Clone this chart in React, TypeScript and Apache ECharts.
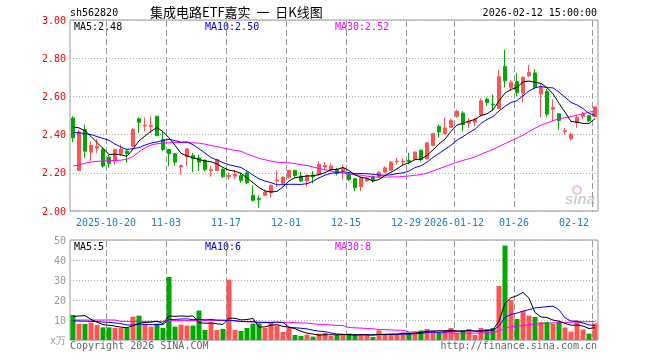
import React, { useEffect, useRef } from 'react';
import * as echarts from 'echarts';

const dates = [
  '2025-10-10', '2025-10-13', '2025-10-14', '2025-10-15', '2025-10-16', '2025-10-17',
  '2025-10-20', '2025-10-21', '2025-10-22', '2025-10-23', '2025-10-24',
  '2025-10-27', '2025-10-28', '2025-10-29', '2025-10-30', '2025-10-31',
  '2025-11-03', '2025-11-04', '2025-11-05', '2025-11-06', '2025-11-07',
  '2025-11-10', '2025-11-11', '2025-11-12', '2025-11-13', '2025-11-14',
  '2025-11-17', '2025-11-18', '2025-11-19', '2025-11-20', '2025-11-21',
  '2025-11-24', '2025-11-25', '2025-11-26', '2025-11-27', '2025-11-28',
  '2025-12-01', '2025-12-02', '2025-12-03', '2025-12-04', '2025-12-05',
  '2025-12-08', '2025-12-09', '2025-12-10', '2025-12-11', '2025-12-12',
  '2025-12-15', '2025-12-16', '2025-12-17', '2025-12-18', '2025-12-19',
  '2025-12-22', '2025-12-23', '2025-12-24', '2025-12-25', '2025-12-26',
  '2025-12-29', '2025-12-30', '2025-12-31',
  '2026-01-05', '2026-01-06', '2026-01-07', '2026-01-08', '2026-01-09',
  '2026-01-12', '2026-01-13', '2026-01-14', '2026-01-15', '2026-01-16',
  '2026-01-19', '2026-01-20', '2026-01-21', '2026-01-22', '2026-01-23',
  '2026-01-26', '2026-01-27', '2026-01-28', '2026-01-29', '2026-01-30',
  '2026-02-02', '2026-02-03', '2026-02-04', '2026-02-05', '2026-02-06',
  '2026-02-09', '2026-02-10', '2026-02-11', '2026-02-12',
];

const opens = [
  2.487, 2.212, 2.426, 2.308, 2.33, 2.322, 2.282, 2.261, 2.299, 2.313,
  2.339, 2.483, 2.445, 2.443, 2.496, 2.374, 2.322, 2.30, 2.23, 2.283,
  2.29, 2.278, 2.266, 2.212, 2.212, 2.217, 2.179, 2.183, 2.186, 2.2,
  2.082, 2.066, 2.082, 2.096, 2.157, 2.144, 2.177, 2.212, 2.183, 2.157,
  2.188, 2.191, 2.23, 2.217, 2.217, 2.209, 2.191, 2.169, 2.127, 2.157,
  2.179, 2.179, 2.203, 2.214, 2.258, 2.256, 2.264, 2.27, 2.318, 2.273,
  2.343, 2.443, 2.405, 2.438, 2.496, 2.513, 2.46, 2.465, 2.504, 2.586,
  2.56, 2.537, 2.756, 2.647, 2.677, 2.617, 2.709, 2.723, 2.612, 2.625,
  2.533, 2.509, 2.415, 2.379, 2.462, 2.495, 2.499, 2.495,
];
const closes = [
  2.383, 2.414, 2.313, 2.343, 2.339, 2.235, 2.249, 2.322, 2.325, 2.30,
  2.426, 2.464, 2.449, 2.449, 2.395, 2.322, 2.30, 2.256, 2.238, 2.325,
  2.273, 2.256, 2.217, 2.217, 2.27, 2.179, 2.186, 2.191, 2.16, 2.148,
  2.056, 2.061, 2.099, 2.134, 2.162, 2.177, 2.212, 2.186, 2.157, 2.186,
  2.179, 2.243, 2.238, 2.235, 2.196, 2.226, 2.165, 2.122, 2.174, 2.169,
  2.157, 2.203, 2.226, 2.257, 2.261, 2.261, 2.259, 2.308, 2.27, 2.357,
  2.405, 2.414, 2.435, 2.475, 2.522, 2.452, 2.468, 2.48, 2.577, 2.568,
  2.555, 2.703, 2.682, 2.674, 2.62, 2.70, 2.726, 2.647, 2.647, 2.507,
  2.542, 2.474, 2.42, 2.40, 2.49, 2.508, 2.474, 2.545,
];
const lows = [
  2.36, 2.209, 2.278, 2.261, 2.304, 2.226, 2.226, 2.243, 2.287, 2.252,
  2.336, 2.409, 2.417, 2.409, 2.391, 2.313, 2.235, 2.235, 2.191, 2.235,
  2.203, 2.209, 2.209, 2.18, 2.209, 2.174, 2.165, 2.165, 2.148, 2.139,
  2.049, 2.017, 2.078, 2.07, 2.127, 2.139, 2.169, 2.174, 2.151, 2.127,
  2.144, 2.186, 2.217, 2.21, 2.186, 2.165, 2.157, 2.104, 2.104, 2.151,
  2.148, 2.174, 2.2, 2.209, 2.243, 2.235, 2.243, 2.266, 2.261, 2.27,
  2.339, 2.383, 2.4, 2.435, 2.487, 2.417, 2.435, 2.443, 2.496, 2.55,
  2.525, 2.533, 2.647, 2.63, 2.6, 2.568, 2.70, 2.637, 2.49, 2.49,
  2.47, 2.426, 2.40, 2.37, 2.435, 2.48, 2.465, 2.49,
];
const highs = [
  2.496, 2.426, 2.452, 2.365, 2.377, 2.33, 2.296, 2.325, 2.348, 2.325,
  2.435, 2.49, 2.49, 2.496, 2.496, 2.417, 2.322, 2.304, 2.243, 2.33,
  2.304, 2.296, 2.27, 2.235, 2.273, 2.226, 2.2, 2.217, 2.2, 2.209,
  2.134, 2.082, 2.113, 2.139, 2.212, 2.183, 2.217, 2.217, 2.205, 2.191,
  2.209, 2.261, 2.255, 2.25, 2.226, 2.243, 2.2, 2.174, 2.179, 2.179,
  2.186, 2.209, 2.235, 2.261, 2.278, 2.278, 2.304, 2.313, 2.322, 2.36,
  2.409, 2.452, 2.487, 2.483, 2.53, 2.522, 2.487, 2.487, 2.59, 2.595,
  2.61, 2.74, 2.845, 2.684, 2.723, 2.705, 2.766, 2.744, 2.665, 2.64,
  2.584, 2.51, 2.435, 2.41, 2.504, 2.52, 2.504, 2.55,
];
const volumes = [
  12.5, 8, 8, 8.7, 7.5, 6.3, 6.3, 6, 6, 6,
  11.7, 12.2, 8, 6.7, 8.2, 6, 31.5, 6.7, 7.7, 7.2,
  7.2, 14.7, 5, 8.7, 5, 5.5, 30.2, 5, 4.5, 6,
  8.2, 8.2, 6, 8.7, 7.2, 4, 6, 2.5, 2, 2.7,
  1.7, 3.2, 3.5, 2, 2.5, 2.5, 3.2, 2.5, 2.5, 2.5,
  1.5, 4.8, 3, 3, 2.5, 3.7, 3.7, 4.2, 4.8, 5.5,
  4.5, 4, 4.5, 6, 3.5, 4.5, 5.5, 2.5, 6, 5.5,
  6, 27, 47.2, 20, 10.5, 14.5, 12.2, 11.5, 9, 9,
  8.2, 9.2, 6.3, 4.2, 9.7, 5.3, 3.2, 8.3,
];

// moving-average values before a full window exists
const priceMa5Head = [2.44, 2.435, 2.42, 2.39];
const priceMa10Head = [2.41, 2.41, 2.405, 2.40, 2.39, 2.38, 2.37, 2.35, 2.335];
const priceMa30Head = [
  2.236, 2.24, 2.25, 2.256, 2.26, 2.262, 2.264, 2.264, 2.266, 2.272,
  2.285, 2.31, 2.33, 2.345, 2.352, 2.356, 2.357, 2.358, 2.358, 2.358,
  2.357, 2.355, 2.35, 2.343, 2.337, 2.33, 2.323, 2.318, 2.313,
];
const volMa5Head = [11.8, 12, 12.2, 10.3];
const volMa10Head = [9.6, 9.5, 9.4, 9.3, 9.2, 9.0, 8.8, 8.5, 8.2];
const volMa30Head = [
  10, 10, 10, 10, 10, 10, 10, 10, 9.3, 9.3,
  9.3, 9.3, 9.3, 9.3, 9.3, 9.3, 9.7, 9.7, 9.7, 9.7,
  9.7, 9.7, 9.7, 9.7, 9.7, 9.7, 9.7, 9.7, 9.2,
];

const tickDates = ['2025-10-20', '2025-11-03', '2025-11-17', '2025-12-01', '2025-12-15', '2025-12-29', '2026-01-12', '2026-01-26', '2026-02-12'];
const tickLabels = ['2025-10-20', '11-03', '11-17', '12-01', '12-15', '12-29', '2026-01-12', '01-26', '02-12'];

const priceMaLegend = ['MA5:2.48', 'MA10:2.50', 'MA30:2.52'];
const volMaLegend = ['MA5:5', 'MA10:6', 'MA30:8'];
const maColors = ['#000000', '#0000ff', '#ff00ff'];

const UP = '#ff5454';
const DOWN = '#00a800';
const MONO = '"DejaVu Sans Mono", monospace';

function movingAverage(values: number[], n: number, head: number[]): number[] {
  return values.map((_, i) => {
    if (i < n - 1) return head[i];
    let s = 0;
    for (let k = i - n + 1; k <= i; k++) s += values[k];
    return +(s / n).toFixed(4);
  });
}

export default function App() {
  const ref = useRef<HTMLDivElement>(null);
  useEffect(() => {
    if (!ref.current) return;
    const chart = echarts.init(ref.current, undefined, { renderer: 'svg' });
    const candles = dates.map((_, i) => [opens[i], closes[i], lows[i], highs[i]]);
    const volData = volumes.map((v, i) => ({
      value: v,
      itemStyle: { color: closes[i] >= opens[i] ? UP : DOWN },
    }));
    const pMa = [
      movingAverage(closes, 5, priceMa5Head),
      movingAverage(closes, 10, priceMa10Head),
      movingAverage(closes, 30, priceMa30Head),
    ];
    const vMa = [
      movingAverage(volumes, 5, volMa5Head),
      movingAverage(volumes, 10, volMa10Head),
      movingAverage(volumes, 30, volMa30Head),
    ];
    const isTick = (_: number, v: string) => tickDates.indexOf(v) >= 0;
    const tickIdx = tickDates.map((d) => dates.indexOf(d));
    const legendX = [74, 205, 335];
    const gridLine = { show: true, lineStyle: { color: '#aaa', type: [1, 2], width: 1 } };
    const DASH = 6;
    const GAP = 3;

    // dashed vertical lines at the left edge of each labelled date's band (dashes drawn as 1px rects)
    const dateLines = (xAxisIndex: number, yAxisIndex: number, yTop: number, yBottom: number) => ({
      type: 'custom', xAxisIndex, yAxisIndex, silent: true, z: 1, clip: false,
      data: [[0]],
      encode: { x: 0 },
      renderItem: (_params: any, api: any) => {
        const band = api.size([1, 0])[0];
        const children: any[] = [];
        tickIdx.forEach((idx) => {
          const top = api.coord([idx, yTop]);
          const bottom = api.coord([idx, yBottom]);
          const x = Math.round(top[0] - band / 2);
          for (let y = Math.round(top[1]) + 1; y < bottom[1]; y += DASH + GAP) {
            children.push({
              type: 'rect',
              shape: { x, y, width: 1, height: Math.min(DASH, bottom[1] - y) },
              style: { fill: '#999' },
            });
          }
        });
        return { type: 'group', children };
      },
    });

    const option: any = {
      animation: false,
      grid: [
        { left: 70, top: 20, width: 528, height: 191, show: true, borderColor: '#999', borderWidth: 1 },
        { left: 70, top: 240, width: 528, height: 100, show: true, borderColor: '#999', borderWidth: 1 },
      ],
      xAxis: [
        {
          type: 'category', gridIndex: 0, data: dates, boundaryGap: true,
          axisLine: { show: false }, axisTick: { show: false }, splitLine: { show: false },
          axisLabel: {
            interval: isTick,
            formatter: (v: string) => tickLabels[tickDates.indexOf(v)] || '',
            color: '#1c7cd0', fontFamily: MONO, fontSize: 10, margin: 6,
            padding: [0, 6, 0, 0], alignMaxLabel: 'right',
          },
        },
        {
          type: 'category', gridIndex: 1, data: dates, boundaryGap: true,
          axisLine: { show: false }, axisTick: { show: false }, axisLabel: { show: false }, splitLine: { show: false },
        },
      ],
      yAxis: [
        {
          type: 'value', gridIndex: 0, min: 2, max: 3, interval: 0.2,
          axisLine: { show: false }, axisTick: { show: false },
          axisLabel: { color: '#ff0000', fontFamily: MONO, fontSize: 10, margin: 4, formatter: (v: number) => v.toFixed(2) },
          splitLine: gridLine,
        },
        {
          type: 'value', gridIndex: 1, min: 0, max: 50, interval: 10,
          axisLine: { show: false }, axisTick: { show: false },
          axisLabel: { color: '#999', fontFamily: MONO, fontSize: 10, margin: 4, formatter: (v: number) => (v === 0 ? 'x万' : String(v)) },
          splitLine: gridLine,
        },
      ],
      series: [
        dateLines(0, 0, 3, 2),
        dateLines(1, 1, 50, 0),
        {
          type: 'candlestick', xAxisIndex: 0, yAxisIndex: 0, data: candles, barWidth: 4,
          itemStyle: { color: UP, color0: DOWN, borderColor: UP, borderColor0: DOWN, borderWidth: 1 },
          z: 2,
        },
        ...pMa.map((d, k) => ({
          type: 'line', xAxisIndex: 0, yAxisIndex: 0, data: d, symbol: 'none', silent: true,
          lineStyle: { color: maColors[k], width: 1 }, z: 5 - k,
        })),
        { type: 'bar', xAxisIndex: 1, yAxisIndex: 1, data: volData, barWidth: 5, z: 2 },
        ...vMa.map((d, k) => ({
          type: 'line', xAxisIndex: 1, yAxisIndex: 1, data: d, symbol: 'none', silent: true,
          lineStyle: { color: maColors[k], width: 1 }, z: 5 - k,
        })),
      ],
      graphic: [
        { type: 'text', left: 70, top: 7, style: { text: 'sh562820', font: `10px ${MONO}`, fill: '#000' } },
        { type: 'text', left: 150, top: 5, style: { text: '集成电路ETF嘉实  一  日K线图', font: '13px "Noto Sans CJK SC"', fill: '#000' } },
        { type: 'text', right: 63, top: 7, style: { text: '2026-02-12 15:00:00', font: `10px ${MONO}`, fill: '#000' } },
        ...priceMaLegend.map((t, k) => ({ type: 'text', left: legendX[k], top: 21, style: { text: t, font: `10px ${MONO}`, fill: maColors[k] } })),
        ...volMaLegend.map((t, k) => ({ type: 'text', left: legendX[k], top: 241, style: { text: t, font: `10px ${MONO}`, fill: maColors[k] } })),
        { type: 'text', left: 70, top: 340, style: { text: 'Copyright 2026 SINA.COM', font: `10px ${MONO}`, fill: '#666' } },
        { type: 'text', right: 63, top: 340, style: { text: 'http://finance.sina.com.cn', font: `10px ${MONO}`, fill: '#666' } },
        { type: 'ring', shape: { cx: 577, cy: 190, r: 5, r0: 3 }, style: { fill: '#f0c8c8' }, silent: true },
        { type: 'text', left: 565, top: 191, style: { text: 'sina', font: 'italic bold 15px "Liberation Sans"', fill: '#cfcfcf' }, silent: true },
      ],
    };
    chart.setOption(option);
    return () => chart.dispose();
  }, []);
  return <div ref={ref} style={{ position: 'fixed', left: 0, top: 0, width: 660, height: 360 }} />;
}
